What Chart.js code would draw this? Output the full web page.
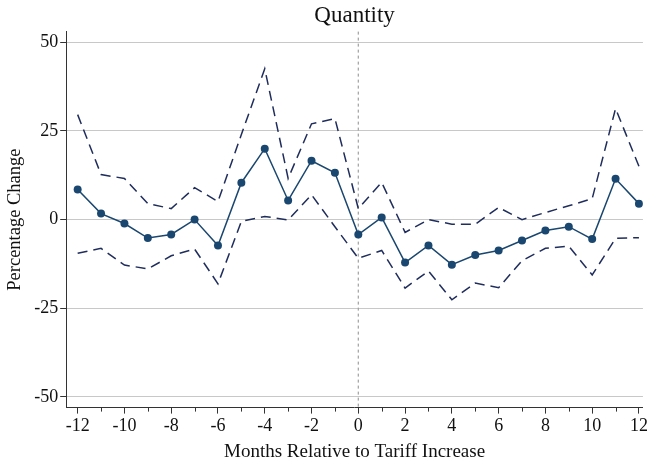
<!DOCTYPE html>
<html>
<head>
<meta charset="utf-8">
<script src="https://cdn.jsdelivr.net/npm/chart.js@4"></script>
<style>
  html, body { margin: 0; padding: 0; background: #fff; }
  #wrap { width: 650px; height: 463px; }
</style>
</head>
<body>
<div id="wrap"><canvas id="chart"></canvas></div>
<script>
// months relative to tariff increase
const months = [-12,-11,-10,-9,-8,-7,-6,-5,-4,-3,-2,-1,0,1,2,3,4,5,6,7,8,9,10,11,12]
// point estimate
const estimate = [8.5,1.7,-1.1,-5.2,-4.2,0,-7.3,10.4,20.0,5.4,16.6,13.2,-4.2,0.6,-12.1,-7.3,-12.7,-10,-8.7,-5.9,-3.1,-2,-5.5,11.5,4.5]
// confidence band
const upper = [29.6,12.7,11.6,4.5,3.1,9,5.1,24,42.5,11.6,27,28.5,3.1,10.5,-3.6,0,-1.3,-1.3,3.4,0,2,3.9,5.9,31.3,15]
const lower = [-9.5,-8.1,-12.8,-13.9,-10.2,-8.3,-18.1,-0.5,0.9,-0.1,7,-2,-10.9,-8.7,-19.3,-14.5,-22.6,-17.9,-19.2,-11.6,-8.1,-7.5,-15.6,-5.3,-5.1]

const yTicks = [-50,-25,0,25,50]
const xTicks = months
const eventMonth = 0

const FONT = "'Liberation Serif', 'DejaVu Serif', serif"
const NAVY = '#1a476f'
const DKNAVY = '#1f2d5c'

function pts(ys) {
    return months.map((m, i) => ({x: m, y: ys[i]}))
}

// vertical reference line + short minor ticks on the x axis
const extras = {
    id: 'extras',
    beforeDatasetsDraw(chart) {
        const {ctx, chartArea, scales} = chart
        const x = scales.x.getPixelForValue(eventMonth)
        ctx.save()
        ctx.strokeStyle = '#a0a0a0'
        ctx.lineWidth = 1.2
        ctx.setLineDash([3, 3])
        ctx.beginPath()
        ctx.moveTo(x, chartArea.top)
        ctx.lineTo(x, chartArea.bottom)
        ctx.stroke()
        ctx.restore()
    },
    afterDraw(chart) {
        const {ctx, chartArea, scales} = chart
        ctx.save()
        ctx.strokeStyle = '#333'
        ctx.lineWidth = 1
        xTicks.forEach(v => {
            if (v % 2 === 0) return
            const x = Math.round(scales.x.getPixelForValue(v)) + 0.5
            ctx.beginPath()
            ctx.moveTo(x, chartArea.bottom)
            ctx.lineTo(x, chartArea.bottom + 4)
            ctx.stroke()
        })
        ctx.restore()
    }
}

new Chart('chart', {
    type: 'line',
    data: {
        datasets: [
            {
                label: 'Upper',
                data: pts(upper),
                borderColor: DKNAVY,
                borderWidth: 1.5,
                borderDash: [10, 6],
                pointRadius: 0,
                tension: 0
            },
            {
                label: 'Lower',
                data: pts(lower),
                borderColor: DKNAVY,
                borderWidth: 1.5,
                borderDash: [10, 6],
                pointRadius: 0,
                tension: 0
            },
            {
                label: 'Estimate',
                data: pts(estimate),
                borderColor: NAVY,
                backgroundColor: NAVY,
                borderWidth: 1.5,
                pointRadius: 4,
                pointBorderWidth: 0,
                tension: 0
            }
        ]
    },
    options: {
        responsive: true,
        maintainAspectRatio: false,
        animation: false,
        layout: { padding: {top: 0, right: 0, bottom: 0, left: 4} },
        plugins: {
            legend: { display: false },
            tooltip: { enabled: false },
            title: {
                display: true,
                text: 'Quantity',
                fullSize: false,
                color: '#111',
                font: {family: FONT, size: 23, weight: 'normal'},
                padding: {top: 2, bottom: 2}
            }
        },
        scales: {
            x: {
                type: 'linear',
                min: -12.49,
                max: 12.17,
                afterBuildTicks: s => { s.ticks = xTicks.map(v => ({value: v})) },
                border: { color: '#333', width: 1 },
                grid: {
                    drawOnChartArea: false,
                    tickLength: 6,
                    tickColor: c => (c.tick && c.tick.value % 2 === 0) ? '#333' : 'rgba(0,0,0,0)'
                },
                ticks: {
                    color: '#111',
                    font: {family: FONT, size: 18},
                    padding: 2,
                    maxRotation: 0,
                    autoSkip: false,
                    callback: v => v % 2 === 0 ? String(v) : ''
                },
                title: {
                    display: true,
                    text: 'Months Relative to Tariff Increase',
                    color: '#111',
                    font: {family: FONT, size: 19},
                    padding: {top: 1, bottom: 0}
                }
            },
            y: {
                min: -53,
                max: 53,
                afterBuildTicks: s => { s.ticks = yTicks.map(v => ({value: v})) },
                border: { color: '#333', width: 1 },
                grid: {
                    color: '#c8c8c8',
                    lineWidth: 1,
                    tickLength: 6,
                    tickColor: '#333'
                },
                ticks: {
                    color: '#111',
                    font: {family: FONT, size: 18},
                    padding: 2
                },
                title: {
                    display: true,
                    text: 'Percentage Change',
                    color: '#111',
                    font: {family: FONT, size: 18.5},
                    padding: {top: 0, bottom: 6}
                }
            }
        }
    },
    plugins: [extras]
})
</script>
</body>
</html>
